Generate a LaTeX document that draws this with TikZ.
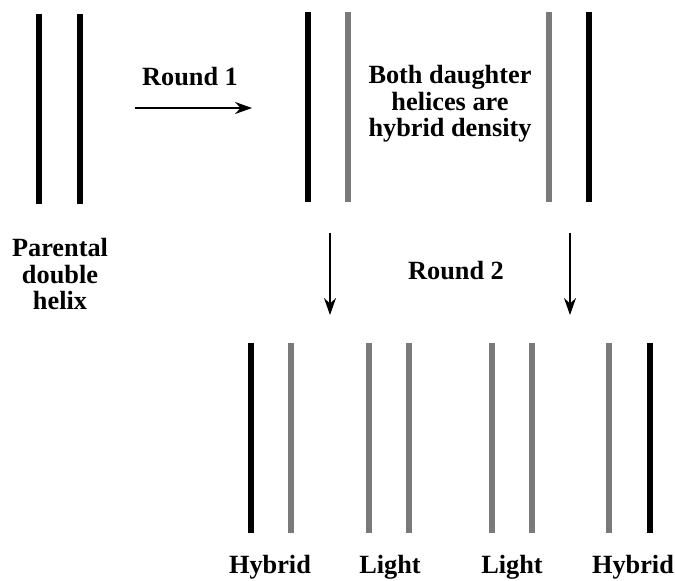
\documentclass[tikz,border=0pt]{standalone}
\usepackage{fontspec}
\setmainfont{Liberation Serif}
\usetikzlibrary{positioning}
\usetikzlibrary{arrows.meta}

\begin{document}
\begin{tikzpicture}[x=1pt,y=-1pt,heavy/.style={line width=5.8pt,black},light/.style={line width=5.2pt,black!52},lbl/.style={font=\bfseries\fontsize{26.3}{26.5}\selectfont,align=center,inner sep=0pt},arr/.style={line width=1.7pt,-{Stealth[length=17pt,width=12pt]}}]
    \useasboundingbox (0,0) rectangle (675,581);
    %
    % parental helix
    \draw[heavy] (39,14) -- (39,204);
    \draw[heavy] (80,14) -- (80,204);
    \node[lbl,anchor=north](parental) at (60,238.5){Parental\\double\\helix};
    %
    % first round
    \coordinate (r1s) at (135,108);
    \coordinate (r1e) at (252,108);
    \draw[arr] (r1s) -- (r1e);
    \node[lbl,anchor=base](round1) at (190,85){Round 1};
    %
    \draw[heavy] (308,12) -- (308,202);
    \draw[light] (348,12) -- (348,202);
    \draw[light] (549,12) -- (549,202);
    \draw[heavy] (589,12) -- (589,202);
    \node[lbl,anchor=north](daughters) at (450,65.5){Both daughter\\helices are\\hybrid density};
    %
    % second round
    \coordinate (r2a) at (330,233);
    \coordinate (r2b) at (330,315);
    \coordinate (r2c) at (570,233);
    \coordinate (r2d) at (570,315);
    \draw[arr] (r2a) -- (r2b);
    \draw[arr] (r2c) -- (r2d);
    \node[lbl,anchor=base](round2) at (456,279){Round 2};
    %
    \draw[heavy] (251,343) -- (251,533);
    \draw[light] (291,343) -- (291,533);
    \draw[light] (369,343) -- (369,533);
    \draw[light] (409,343) -- (409,533);
    \draw[light] (492,343) -- (492,533);
    \draw[light] (532,343) -- (532,533);
    \draw[light] (609,343) -- (609,533);
    \draw[heavy] (650,343) -- (650,533);
    %
    \node[lbl,anchor=base](hyb1) at (270,573.5){Hybrid};
    \node[lbl,anchor=base](light1) at (390,573.5){Light};
    \node[lbl,anchor=base](light2) at (512,573.5){Light};
    \node[lbl,anchor=base](hyb2) at (633,573.5){Hybrid};
\end{tikzpicture}
\end{document}
